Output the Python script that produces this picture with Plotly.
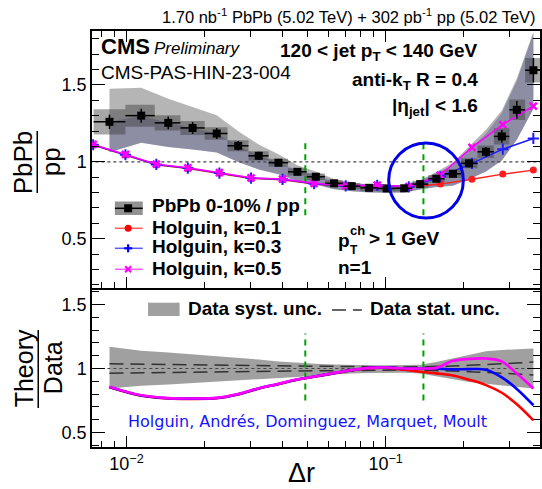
import numpy as np
import plotly.graph_objects as go

# ---------------- data ----------------
dr = [0.0086, 0.0114, 0.0145, 0.018, 0.0223, 0.027, 0.0324, 0.0386, 0.0457, 0.0538,
      0.0633, 0.074, 0.0863, 0.101, 0.118, 0.136, 0.157, 0.182, 0.21, 0.244,
      0.281, 0.321, 0.372]
ratio = [1.26, 1.30, 1.253, 1.22, 1.184, 1.104, 1.039, 0.994, 0.935, 0.903,
         0.86, 0.842, 0.831, 0.827, 0.828, 0.855, 0.89, 0.922, 0.99, 1.065,
         1.165, 1.338, 1.595]
stat_rel = [0.037, 0.035, 0.033, 0.032, 0.03, 0.028, 0.025, 0.022, 0.02, 0.018,
            0.016, 0.014, 0.013, 0.012, 0.012, 0.013, 0.015, 0.02, 0.025, 0.03,
            0.036, 0.043, 0.05]
box_rel = [0.065, 0.055, 0.04, 0.037, 0.034, 0.032, 0.029, 0.026, 0.025, 0.024,
           0.024, 0.024, 0.024, 0.024, 0.024, 0.025, 0.027, 0.03, 0.033, 0.038,
           0.045, 0.05, 0.05]
syst_up = [0.17, 0.14, 0.125, 0.11, 0.10, 0.085, 0.07, 0.055, 0.045, 0.038,
           0.032, 0.028, 0.026, 0.026, 0.026, 0.03, 0.05, 0.08, 0.11, 0.135,
           0.145, 0.152, 0.157]
syst_dn = [0.157, 0.135, 0.125, 0.115, 0.105, 0.095, 0.085, 0.075, 0.066, 0.055,
           0.045, 0.04, 0.036, 0.034, 0.034, 0.04, 0.06, 0.085, 0.105, 0.12,
           0.135, 0.145, 0.157]
blue_up = [0.0, 0.0, 0.0, 0.0, 0.0, 0.0, 0.0, 0.0, 0.01, 0.015,
           0.02, 0.02, 0.02, 0.02, 0.02, 0.025, 0.04, 0.06, 0.09, 0.11,
           0.13, 0.14, 0.15]

th_x = [0.00744, 0.00991, 0.01304, 0.01725, 0.02284, 0.03026, 0.04002, 0.05298,
        0.07018, 0.09283, 0.1229, 0.1627, 0.2154, 0.2834, 0.3718]
th_k01 = [1.109, 1.044, 0.981, 0.957, 0.925, 0.892, 0.884, 0.856, 0.842, 0.846,
          0.836, 0.855, 0.886, 0.92, 0.946]
th_k03 = [1.111, 1.046, 0.983, 0.959, 0.927, 0.894, 0.886, 0.858, 0.843, 0.847,
          0.837, 0.903, 0.99, 1.082, 1.152]
th_k05 = [1.113, 1.048, 0.985, 0.961, 0.929, 0.896, 0.888, 0.86, 0.845, 0.849,
          0.838, 0.914, 1.094, 1.242, 1.362]

# theory / data (bottom panel), at data bin centres
rd_k01 = [0.853, 0.787, 0.765, 0.762, 0.767, 0.797, 0.842, 0.877, 0.912, 0.937,
          0.962, 0.985, 1.002, 1.005, 0.99, 0.975, 0.962, 0.945, 0.912, 0.87,
          0.81, 0.72, 0.594]
rd_k03 = [0.855, 0.789, 0.767, 0.764, 0.769, 0.799, 0.844, 0.879, 0.914, 0.939,
          0.964, 0.987, 1.004, 1.007, 1.0, 1.0, 1.0, 0.993, 0.995, 0.99,
          0.93, 0.84, 0.712]
rd_k05 = [0.856, 0.79, 0.768, 0.765, 0.77, 0.8, 0.845, 0.88, 0.915, 0.94,
          0.965, 0.988, 1.005, 1.008, 1.0, 1.0, 1.005, 1.06, 1.075, 1.078,
          1.055, 0.96, 0.843]

green_lines = [0.049, 0.14]
xticks_major = [0.01, 0.1]
xticks_major_text = ["10<sup>\u22122</sup>", "10<sup>\u22121</sup>"]
xticks_minor = [0.008, 0.009, 0.02, 0.03, 0.04, 0.05, 0.06, 0.07, 0.08, 0.09, 0.2, 0.3]

# ---------------- geometry helpers ----------------
W, H = 542, 489
ML, MR, MT, MB = 92, 0, 31, 42
PW, PH = W - ML - MR, H - MT - MB


def PX(x):
    return (x - ML) / PW


def PY(y):
    return (H - MB - y) / PH


ARIAL = "Liberation Sans, Arial, sans-serif"

dr_a = np.array(dr)
v = np.array(ratio)
lx = np.log10(dr_a)
edges = np.empty(len(dr) + 1)
edges[1:-1] = (lx[:-1] + lx[1:]) / 2
edges[0] = lx[0] - (edges[1] - lx[0])
edges[-1] = lx[-1] + (lx[-1] - edges[-2])
lo = 10 ** edges[:-1]
hi = 10 ** edges[1:]

fig = go.Figure()

# ---------------- top panel ----------------
up = v * (1 + np.array(syst_up))
dn = v * (1 - np.array(syst_dn))
fig.add_trace(go.Scatter(x=list(dr_a) + list(dr_a[::-1]), y=list(up) + list(dn[::-1]),
                         fill="toself", fillcolor="rgba(120,120,120,0.55)",
                         line=dict(width=0), mode="lines", hoverinfo="skip",
                         xaxis="x", yaxis="y"))
bup = v * (1 + np.array(blue_up))
fig.add_trace(go.Scatter(x=list(dr_a) + list(dr_a[::-1]), y=list(bup) + list(dn[::-1]),
                         fill="toself", fillcolor="rgba(60,60,130,0.33)",
                         line=dict(width=0), mode="lines", hoverinfo="skip",
                         xaxis="x", yaxis="y"))
bx, by = [], []
b = v * np.array(box_rel)
for i in range(len(dr)):
    bx += [lo[i], hi[i], hi[i], lo[i], lo[i], None]
    by += [v[i] - b[i], v[i] - b[i], v[i] + b[i], v[i] + b[i], v[i] - b[i], None]
fig.add_trace(go.Scatter(x=bx, y=by, fill="toself", fillcolor="rgba(60,60,60,0.45)",
                         line=dict(width=0), mode="lines", hoverinfo="skip",
                         xaxis="x", yaxis="y"))

# y = 1 dotted reference
fig.add_trace(go.Scatter(x=[0.001, 1.0], y=[1, 1], mode="lines",
                         line=dict(color="#444", width=1.2, dash="dot"),
                         xaxis="x", yaxis="y"))
# green lines
for g in green_lines:
    fig.add_trace(go.Scatter(x=[g, g], y=[0.653, 1.12], mode="lines",
                             line=dict(color="rgb(0,160,0)", width=2, dash="6px,5px"),
                             xaxis="x", yaxis="y"))

# theory curves
fig.add_trace(go.Scatter(x=th_x, y=th_k01, mode="lines+markers",
                         line=dict(color="rgb(255,30,30)", width=1.5),
                         marker=dict(symbol="circle", size=7, color="rgb(255,30,30)"),
                         xaxis="x", yaxis="y"))
fig.add_trace(go.Scatter(x=th_x, y=th_k03, mode="lines+markers",
                         line=dict(color="rgb(30,30,255)", width=1.5),
                         marker=dict(symbol="cross-thin", size=8,
                                     line=dict(color="rgb(30,30,255)", width=2)),
                         xaxis="x", yaxis="y"))
fig.add_trace(go.Scatter(x=th_x, y=th_k05, mode="lines+markers",
                         line=dict(color="rgb(255,0,255)", width=1.5),
                         marker=dict(symbol="x-thin", size=7,
                                     line=dict(color="rgb(255,0,255)", width=2.5)),
                         xaxis="x", yaxis="y"))

# data points
fig.add_trace(go.Scatter(x=dr, y=ratio, mode="markers",
                         marker=dict(symbol="square", size=8, color="black"),
                         error_y=dict(type="data", array=list(v * np.array(stat_rel)),
                                      color="black", thickness=1.5, width=0),
                         error_x=dict(type="data", array=list(hi - dr_a),
                                      arrayminus=list(dr_a - lo),
                                      color="black", thickness=1.5, width=0),
                         xaxis="x", yaxis="y"))

# ---------------- bottom panel ----------------
one = np.ones(len(dr))
fig.add_trace(go.Scatter(x=list(dr_a) + list(dr_a[::-1]),
                         y=list(one + np.array(syst_up)) + list((one - np.array(syst_dn))[::-1]),
                         fill="toself", fillcolor="rgba(120,120,120,0.7)",
                         line=dict(width=0), mode="lines", hoverinfo="skip",
                         xaxis="x2", yaxis="y2"))
fig.add_trace(go.Scatter(x=[0.001, 1.0], y=[1, 1], mode="lines",
                         line=dict(color="#444", width=1.2, dash="dot"),
                         xaxis="x2", yaxis="y2"))
for s in (1, -1):
    fig.add_trace(go.Scatter(x=dr, y=list(one + s * np.array(stat_rel)), mode="lines",
                             line=dict(color="rgb(50,50,50)", width=1.5, dash="14px,7px"),
                             xaxis="x2", yaxis="y2"))
for g in green_lines:
    fig.add_trace(go.Scatter(x=[g, g], y=[0.75, 1.275], mode="lines",
                             line=dict(color="rgb(0,160,0)", width=2, dash="6px,5px"),
                             xaxis="x2", yaxis="y2"))
for ys, c in ((rd_k01, "rgb(255,0,0)"), (rd_k03, "rgb(0,0,255)"), (rd_k05, "rgb(255,0,255)")):
    fig.add_trace(go.Scatter(x=dr, y=ys, mode="lines",
                             line=dict(color=c, width=2.6, shape="spline"),
                             xaxis="x2", yaxis="y2"))

# ---------------- axes ----------------
xr = [-2.133, -0.404]
common_x = dict(type="log", range=xr, showgrid=False, zeroline=False,
                showline=True, linecolor="black", linewidth=1.5,
                ticks="inside", ticklen=11, tickwidth=1.2, tickcolor="black",
                tickvals=xticks_major, ticktext=xticks_major_text,
                minor=dict(ticks="inside", ticklen=6, tickwidth=1.2, tickcolor="black",
                           tickvals=xticks_minor, showgrid=False))
common_y = dict(showgrid=False, zeroline=False, showline=True, linecolor="black",
                linewidth=1.5, ticks="inside", ticklen=13, tickwidth=1.2, tickcolor="black",
                tickvals=[0.5, 1, 1.5], ticktext=["0.5", "1", "1.5"],
                tickfont=dict(family=ARIAL, size=18, color="black"),
                minor=dict(ticks="inside", ticklen=7, tickwidth=1.2, tickcolor="black",
                           dtick=0.1, tick0=0, showgrid=False),
                mirror="ticks")

fig.update_layout(
    width=W, height=H, margin=dict(l=ML, r=MR, t=MT, b=MB),
    paper_bgcolor="white", plot_bgcolor="white", showlegend=False,
    xaxis=dict(common_x, anchor="y", showticklabels=False, mirror="ticks"),
    xaxis2=dict(common_x, anchor="y2", showticklabels=True, mirror=True,
                tickfont=dict(family=ARIAL, size=18, color="black")),
    yaxis=dict(common_y, domain=[PY(288), 1], range=[0.18, 1.85], anchor="x"),
    yaxis2=dict(common_y, domain=[0, PY(290)], range=[0.385, 1.615], anchor="x2"),
)

# ---------------- annotations ----------------
ann = []


def T(text, x, y, size=19, xa="left", ya="middle", color="black", family=ARIAL, angle=0):
    ann.append(dict(text=text, x=PX(x), y=PY(y), xref="paper", yref="paper",
                    xanchor=xa, yanchor=ya, showarrow=False, textangle=angle,
                    font=dict(family=family, size=size, color=color)))


T("1.70 nb<sup>-1</sup> PbPb (5.02 TeV) + 302 pb<sup>-1</sup> pp (5.02 TeV)", 540, 16,
  size=16.5, xa="right")
T("<b>CMS</b>", 99, 47, size=22)
T("<i>Preliminary</i>", 152, 49, size=17)
T("CMS-PAS-HIN-23-004", 99, 72, size=19)
T("<b>120 < jet p<sub>T</sub> < 140 GeV</b>", 482, 52, xa="right")
T("<b>anti-k<sub>T</sub> R = 0.4</b>", 482, 81, xa="right")
T("<b>|\u03b7<sub>jet</sub>| < 1.6</b>", 482, 107, xa="right")

# top legend
T("<b>PbPb 0-10% / pp</b>", 150, 206)
T("<b>Holguin, k=0.1</b>", 150, 227)
T("<b>Holguin, k=0.3</b>", 150, 247)
T("<b>Holguin, k=0.5</b>", 150, 268)

# pT ch text
T("<b>p</b>", 337, 240)
T("<b>ch</b>", 349, 231, size=13)
T("<b>T</b>", 349, 250, size=12)
T("<b>> 1 GeV</b>", 368, 238)
T("<b>n=1</b>", 337, 267)

# bottom legend
T("<b>Data syst. unc.</b>", 186, 308)
T("<b>Data stat. unc.</b>", 369, 308)
T("Holguin, Andrés, Dominguez, Marquet, Moult", 126, 421, size=16,
  color="rgb(20,20,255)", family="DejaVu Sans, sans-serif")

# axis titles
T("\u0394r", 302, 473, size=27, xa="center")
T("PbPb", 23, 162, size=26, xa="center", angle=-90)
T("pp", 51, 162, size=26, xa="center", angle=-90)
T("Theory", 24, 368, size=25, xa="center", angle=-90)
T("Data", 53, 368, size=25, xa="center", angle=-90)

fig.update_layout(annotations=ann)

# ---------------- shapes (decorations in paper coords) ----------------
shapes = []


def L(x0, y0, x1, y1, color="black", width=1.5, dash=None):
    d = dict(type="line", xref="paper", yref="paper", x0=PX(x0), y0=PY(y0),
             x1=PX(x1), y1=PY(y1), line=dict(color=color, width=width))
    if dash:
        d["line"]["dash"] = dash
    shapes.append(d)


def R(x0, y0, x1, y1, fill, lw=0, lc="black"):
    shapes.append(dict(type="rect", xref="paper", yref="paper", x0=PX(x0), y0=PY(y0),
                       x1=PX(x1), y1=PY(y1), fillcolor=fill,
                       line=dict(width=lw, color=lc)))


# fraction bars
L(37, 131, 37, 193, width=1.5)
L(38, 330, 38, 408, width=1.5)

# blue circle
shapes.append(dict(type="circle", xref="paper", yref="paper",
                   x0=PX(390), x1=PX(465), y0=PY(218), y1=PY(143),
                   line=dict(color="rgb(0,0,230)", width=3)))

# top legend symbols
R(115, 201.5, 143, 215, "rgba(110,110,110,0.75)")
L(115, 208.3, 143, 208.3, "black", 1.5)
R(124.3, 204.3, 132.3, 212.3, "black")
L(115, 228.3, 143, 228.3, "rgb(255,90,90)", 1.5)
shapes.append(dict(type="circle", xref="paper", yref="paper",
                   x0=PX(124.8), x1=PX(131.8), y0=PY(231.8), y1=PY(224.8),
                   fillcolor="rgb(255,0,0)", line=dict(width=0)))
L(115, 248.3, 143, 248.3, "rgb(90,90,255)", 1.5)
L(124.3, 248.3, 132.3, 248.3, "rgb(0,0,255)", 2.2)
L(128.3, 244.3, 128.3, 252.3, "rgb(0,0,255)", 2.2)
L(115, 269.3, 143, 269.3, "rgb(255,90,255)", 1.5)
L(125.3, 266.3, 131.3, 272.3, "rgb(255,0,255)", 2.2)
L(125.3, 272.3, 131.3, 266.3, "rgb(255,0,255)", 2.2)

# bottom legend symbols
R(148.3, 302.7, 180, 316, "rgba(120,120,120,0.7)")
L(333, 310, 363, 310, "rgb(50,50,50)", 1.5, dash="14px,7px")

fig.update_layout(shapes=shapes)

fig.write_html("out.html")
